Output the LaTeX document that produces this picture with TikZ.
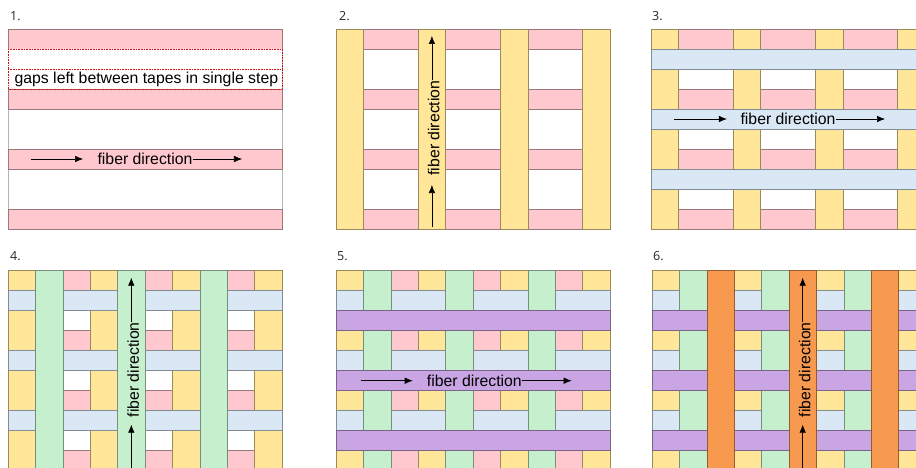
\documentclass[tikz,border=0pt]{standalone}
\usepackage{fontspec}
\setmainfont{Liberation Sans}
\newfontfamily\labelfont{Open Sans}
\usetikzlibrary{arrows.meta}

\definecolor{tpink}{HTML}{FFC8CE}
\definecolor{tyellow}{HTML}{FFE699}
\definecolor{tblue}{HTML}{DAE8F5}
\definecolor{tgreen}{HTML}{C6EFCE}
\definecolor{tpurple}{HTML}{C9A6E3}
\definecolor{torange}{HTML}{F79A50}
\definecolor{framegray}{HTML}{B4B4B4}
\definecolor{gapred}{HTML}{D01010}

\tikzset{
  band/.style={fill=#1, draw=#1!60!black, line width=0.6pt},
  frame/.style={draw=framegray, fill=white, line width=0.6pt},
  gapbox/.style={draw=gapred, dash pattern=on 0.8pt off 0.8pt, fill=white, line width=0.8pt},
  dirtext/.style={inner sep=0pt, font=\fontsize{15.8}{18}\selectfont},
  panellabel/.style={anchor=west, inner sep=0pt, text=black!85,
    font=\labelfont\fontsize{12.5}{14}\selectfont},
  dirarrow/.style={-{Latex[length=8pt,width=6.5pt]}, line width=0.6pt},
}

% Tape layers laid down step by step; #1 = number of steps shown
\newcommand\tapelayers[1]{%
  \draw[frame] (0,0) rectangle (10,10);
  \foreach \r in {0,3,6,9} \draw[band=tpink] (0,\r) rectangle (10,\r+1);
  \ifnum#1>1 \foreach \c in {0,3,6,9} \draw[band=tyellow] (\c,0) rectangle (\c+1,10); \fi
  \ifnum#1>2 \foreach \r in {1,4,7} \draw[band=tblue] (0,\r) rectangle (10,\r+1); \fi
  \ifnum#1>3 \foreach \c in {1,4,7} \draw[band=tgreen] (\c,0) rectangle (\c+1,10); \fi
  \ifnum#1>4 \foreach \r in {2,5,8} \draw[band=tpurple] (0,\r) rectangle (10,\r+1); \fi
  \ifnum#1>5 \foreach \c in {2,5,8} \draw[band=torange] (\c,0) rectangle (\c+1,10); \fi
}

\begin{document}
\begin{tikzpicture}[x=1pt,y=-1pt]
\useasboundingbox (0,0) rectangle (916,468);
\clip (0,0) rectangle (916,468);
\fill[white] (0,0) rectangle (916,468);

% step labels
\node[panellabel] (l1) at (10,16.5) {1.};
\node[panellabel] (l2) at (339,16.5) {2.};
\node[panellabel] (l3) at (652,16.5) {3.};
\node[panellabel] (l4) at (10,256.5) {4.};
\node[panellabel] (l5) at (337,256.5) {5.};
\node[panellabel] (l6) at (653,256.5) {6.};

% step 1: first horizontal tapes, with gaps
\begin{scope}[shift={(8,29)}, x=27.4pt, y=-20pt]
  \tapelayers{1}
  \draw[gapbox] (0,1) rectangle (10,2);
  \draw[gapbox] (0,2) rectangle (10,3);
  \node[dirtext, anchor=base] (gaps) at (5.05,2.75) {gaps left between tapes in single step};
  \node[dirtext] (t1) at (5,6.5) {fiber direction};
  \coordinate (a1) at (0.84,6.5);
  \coordinate (b1) at (2.74,6.5);
  \coordinate (c1) at (8.54,6.5);
  \draw[dirarrow] (a1) -- (b1);
  \draw[dirarrow] (t1.east) -- (c1);
\end{scope}

% step 2: first vertical tapes
\begin{scope}[shift={(336,29)}, x=27.4pt, y=-20pt]
  \tapelayers{2}
  \node[dirtext, rotate=90] (t2) at (3.57,4.95) {fiber direction};
  \coordinate (a2) at (3.5,9.9);
  \coordinate (b2) at (3.5,7.8);
  \coordinate (c2) at (3.5,0.35);
  \draw[dirarrow] (a2) -- (b2);
  \draw[dirarrow] (t2.east -| c2) -- (c2);
\end{scope}

% step 3: second horizontal tapes
\begin{scope}[shift={(651,29)}, x=27.4pt, y=-20pt]
  \tapelayers{3}
  \node[dirtext] (t3) at (5,4.5) {fiber direction};
  \coordinate (a3) at (0.84,4.5);
  \coordinate (b3) at (2.77,4.5);
  \coordinate (c3) at (8.54,4.5);
  \draw[dirarrow] (a3) -- (b3);
  \draw[dirarrow] (t3.east) -- (c3);
\end{scope}

% step 4: second vertical tapes
\begin{scope}[shift={(8,270.7)}, x=27.4pt, y=-20pt]
  \tapelayers{4}
  \node[dirtext, rotate=90] (t4) at (4.57,4.95) {fiber direction};
  \coordinate (a4) at (4.5,9.9);
  \coordinate (b4) at (4.5,7.7);
  \coordinate (c4) at (4.5,0.35);
  \draw[dirarrow] (a4) -- (b4);
  \draw[dirarrow] (t4.east -| c4) -- (c4);
\end{scope}

% step 5: third horizontal tapes
\begin{scope}[shift={(336,270.7)}, x=27.4pt, y=-20pt]
  \tapelayers{5}
  \node[dirtext] (t5) at (5.05,5.5) {fiber direction};
  \coordinate (a5) at (0.9,5.5);
  \coordinate (b5) at (2.8,5.5);
  \coordinate (c5) at (8.6,5.5);
  \draw[dirarrow] (a5) -- (b5);
  \draw[dirarrow] (t5.east) -- (c5);
\end{scope}

% step 6: third vertical tapes
\begin{scope}[shift={(652,270.7)}, x=27.4pt, y=-20pt]
  \tapelayers{6}
  \node[dirtext, rotate=90] (t6) at (5.57,4.95) {fiber direction};
  \coordinate (a6) at (5.5,9.9);
  \coordinate (b6) at (5.5,7.7);
  \coordinate (c6) at (5.5,0.35);
  \draw[dirarrow] (a6) -- (b6);
  \draw[dirarrow] (t6.east -| c6) -- (c6);
\end{scope}
\end{tikzpicture}
\end{document}
